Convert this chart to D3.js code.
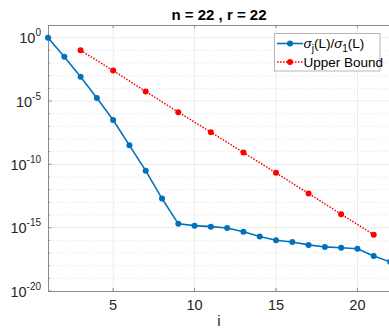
<!DOCTYPE html>
<html><head><meta charset="utf-8">
<script src="https://cdn.jsdelivr.net/npm/d3@7"></script>
<style>body{margin:0;background:#fff;} svg{display:block;} text{font-family:"Liberation Sans",Arial,Helvetica,sans-serif;}</style>
</head><body>
<svg id="c" width="389" height="329"></svg>
<script>
const title = "n = 22 , r = 22";
const xLabel = "i";
const sigmaI = [1,2,3,4,5,6,7,8,9,10,11,12,13,14,15,16,17,18,19,20,21,22];
const sigmaLog = [0,-1.5,-3.08,-4.77,-6.5,-8.5,-10.5,-12.7,-14.7,-14.84,-14.92,-15.02,-15.33,-15.7,-16.0,-16.13,-16.36,-16.52,-16.58,-16.66,-17.23,-17.7];
const boundI = [3,5,7,9,11,13,15,17,19,21];
const boundLog = [-1.0,-2.6,-4.25,-5.88,-7.46,-9.07,-10.67,-12.3,-13.94,-15.55];
const xTicks = [5,10,15,20];
const yTickExps = [0,-5,-10,-15,-20];

const svg = d3.select("#c");
const L = 48, T = 25, R = 390, B = 291;
const x = d3.scaleLinear().domain([1,22]).range([L,R]);
const y = d3.scaleLog().domain([1e-20,1e1]).range([B,T]);

const g = svg.append("g");
const minorExps = d3.range(-19,1).filter(e => e % 5 !== 0);
g.selectAll(".ming").data(minorExps).enter().append("line")
  .attr("x1",L).attr("x2",R).attr("y1",d=>y(Math.pow(10,d))).attr("y2",d=>y(Math.pow(10,d)))
  .attr("stroke","#d8d8d8").attr("stroke-width",0.7).attr("stroke-dasharray","1,2");
g.selectAll(".majg").data(yTickExps.filter(e=>e>-20)).enter().append("line")
  .attr("x1",L).attr("x2",R).attr("y1",d=>y(Math.pow(10,d))).attr("y2",d=>y(Math.pow(10,d)))
  .attr("stroke","#e6e6e6").attr("stroke-width",0.8);
g.selectAll(".xg").data(xTicks).enter().append("line")
  .attr("x1",d=>x(d)).attr("x2",d=>x(d)).attr("y1",T).attr("y2",B)
  .attr("stroke","#e6e6e6").attr("stroke-width",0.8);

const axc = "#8a8a8a";
g.append("line").attr("x1",L).attr("x2",R).attr("y1",B+0.5).attr("y2",B+0.5).attr("stroke",axc);
g.append("line").attr("x1",L).attr("x2",R).attr("y1",T+0.5).attr("y2",T+0.5).attr("stroke",axc);
g.append("line").attr("x1",L+0.5).attr("x2",L+0.5).attr("y1",T).attr("y2",B).attr("stroke",axc);
xTicks.forEach(t=>{
  g.append("line").attr("x1",x(t)).attr("x2",x(t)).attr("y1",B).attr("y2",B-3).attr("stroke",axc);
  g.append("line").attr("x1",x(t)).attr("x2",x(t)).attr("y1",T).attr("y2",T+3).attr("stroke",axc);
});
d3.range(-20,1).forEach(e=>{
  const len = e%5===0?3.5:2;
  g.append("line").attr("x1",L).attr("x2",L+len).attr("y1",y(Math.pow(10,e))).attr("y2",y(Math.pow(10,e))).attr("stroke",axc);
});

g.selectAll(".xt").data(xTicks).enter().append("text")
  .attr("x",d=>x(d)).attr("y",310).attr("text-anchor","middle").attr("font-size",14.5).attr("fill","#262626").text(d=>d);
yTickExps.forEach(e=>{
  const t = g.append("text").attr("x",L-7).attr("y",y(Math.pow(10,e))+5.5).attr("text-anchor","end").attr("fill","#262626").attr("font-size",14.5);
  t.append("tspan").text("10");
  t.append("tspan").attr("dy",-7).attr("font-size",10).text(String(e));
});
g.append("text").attr("x",(L+R)/2).attr("y",326).attr("text-anchor","middle").attr("font-size",15).attr("fill","#262626").text(xLabel);
svg.append("text").attr("x",(L+R)/2).attr("y",20).attr("text-anchor","middle").attr("font-size",15).attr("font-weight","bold").attr("fill","#000").text(title);

const blue = "#0072BD", red = "#ff0000";
const line = d3.line().x(d=>x(d[0])).y(d=>y(Math.pow(10,d[1])));
const sData = sigmaI.map((v,i)=>[v,sigmaLog[i]]);
const bData = boundI.map((v,i)=>[v,boundLog[i]]);
const pg = svg.append("g");
pg.append("path").datum(bData).attr("d",line).attr("fill","none").attr("stroke",red).attr("stroke-width",1.5).attr("stroke-dasharray","1.5,1.5");
pg.selectAll(".bp").data(bData).enter().append("circle").attr("cx",d=>x(d[0])).attr("cy",d=>y(Math.pow(10,d[1]))).attr("r",3).attr("fill",red);
pg.append("path").datum(sData).attr("d",line).attr("fill","none").attr("stroke",blue).attr("stroke-width",1.6);
pg.selectAll(".sp").data(sData).enter().append("circle").attr("cx",d=>x(d[0])).attr("cy",d=>y(Math.pow(10,d[1]))).attr("r",3).attr("fill",blue);

const lg = svg.append("g");
lg.append("rect").attr("x",274.5).attr("y",33.5).attr("width",105.5).attr("height",37.5).attr("fill","#fff").attr("stroke","#a6a6a6").attr("stroke-width",0.8);
lg.append("line").attr("x1",277).attr("x2",303).attr("y1",43.5).attr("y2",43.5).attr("stroke",blue).attr("stroke-width",1.6);
lg.append("circle").attr("cx",290).attr("cy",43.5).attr("r",3).attr("fill",blue);
lg.append("line").attr("x1",277).attr("x2",303).attr("y1",62).attr("y2",62).attr("stroke",red).attr("stroke-width",1.5).attr("stroke-dasharray","1.5,1.5");
lg.append("circle").attr("cx",290).attr("cy",62).attr("r",3).attr("fill",red);
const t1 = lg.append("text").attr("x",303.5).attr("y",47.5).attr("font-size",13.5).attr("fill","#000");
t1.append("tspan").attr("font-style","italic").text("σ");
t1.append("tspan").attr("dy",4).attr("font-size",10).text("j");
t1.append("tspan").attr("dy",-4).text("(L)/");
t1.append("tspan").attr("font-style","italic").text("σ");
t1.append("tspan").attr("dy",4).attr("font-size",10).text("1");
t1.append("tspan").attr("dy",-4).text("(L)");
lg.append("text").attr("x",303.5).attr("y",66.5).attr("font-size",13.5).attr("fill","#000").text("Upper Bound");
</script>
</body></html>
